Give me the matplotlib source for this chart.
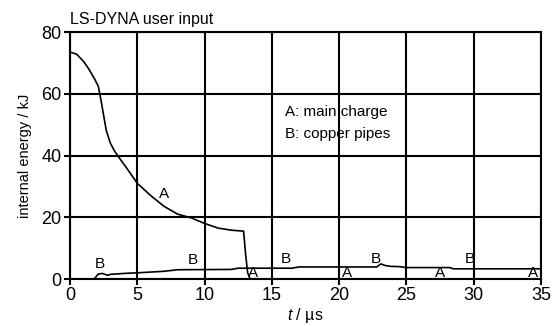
import matplotlib
matplotlib.use("Agg")
import matplotlib.pyplot as plt
import numpy as np

plt.rcParams['font.family'] = ['Liberation Sans Narrow', 'Liberation Sans', 'DejaVu Sans']
plt.rcParams['mathtext.fontset'] = 'custom'
plt.rcParams['mathtext.it'] = 'Liberation Sans:italic'
plt.rcParams['mathtext.rm'] = 'Liberation Sans'

# curve A: main charge
t_a = [0, 0.5, 1.0, 1.4, 1.8, 2.1, 2.3, 2.5, 2.7, 3.0, 3.3, 3.7, 4.2, 5.0, 6.0, 7.0,
       8.0, 9.0, 10.0, 11.0, 12.0, 12.9, 13.05, 13.2, 13.4, 35]
e_a = [73.5, 72.8, 70.5, 68, 65, 62.5, 58, 53, 48, 44, 41.5, 39, 36, 31, 27, 23.5,
       21, 19.8, 18, 16.5, 15.8, 15.5, 8, 2, 0, 0]

# curve B: copper pipes
t_b = [0, 1.8, 2.1, 2.4, 2.8, 3.0, 4.0, 5.0, 7.0, 8.0, 12.0, 12.5, 16.5, 17.0,
       22.8, 23.1, 23.4, 23.8, 24.5, 25.0, 28.2, 28.5, 35]
e_b = [0, 0, 1.6, 1.8, 1.2, 1.5, 1.8, 2.0, 2.5, 3.0, 3.1, 3.5, 3.5, 3.9,
       3.9, 4.9, 4.4, 4.1, 4.0, 3.7, 3.7, 3.3, 3.3]

labels_a_t = [7.0, 13.6, 20.6, 27.5, 34.4]
labels_a_e = [27.5, 2.0, 2.0, 2.0, 2.0]
labels_b_t = [2.2, 9.1, 16.0, 22.7, 29.7]
labels_b_e = [5.0, 6.0, 6.5, 6.5, 6.5]

fig = plt.figure(figsize=(5.54, 3.26), dpi=100)
ax = fig.add_axes([70/554, 47/326, 471/554, 247/326])

ax.plot(t_a, e_a, color='black', lw=1.2)
ax.plot(t_b, e_b, color='black', lw=1.2)

for t, e in zip(labels_a_t, labels_a_e):
    ax.text(t, e, 'A', fontsize=11, ha='center', va='center')
for t, e in zip(labels_b_t, labels_b_e):
    ax.text(t, e, 'B', fontsize=11, ha='center', va='center')

ax.text(16.0, 54, 'A: main charge', fontsize=11, va='center')
ax.text(16.0, 47, 'B: copper pipes', fontsize=11, va='center')

ax.set_xlim(0, 35)
ax.set_ylim(0, 80)
ax.set_xticks(np.arange(0, 36, 5))
ax.set_yticks(np.arange(0, 81, 20))
ax.grid(True, color='black', lw=1.5)
for s in ax.spines.values():
    s.set_linewidth(1.5)
ax.tick_params(labelsize=13, width=1.5, length=4, pad=2)

ax.set_xlabel(r'$t$ / µs', fontsize=11.5, labelpad=1)
ax.set_ylabel('internal energy / kJ', fontsize=10.5, labelpad=7)
ax.text(0, 81.5, 'LS-DYNA user input', fontsize=11.5, ha='left', va='bottom')

plt.savefig('out.png', dpi=100)
